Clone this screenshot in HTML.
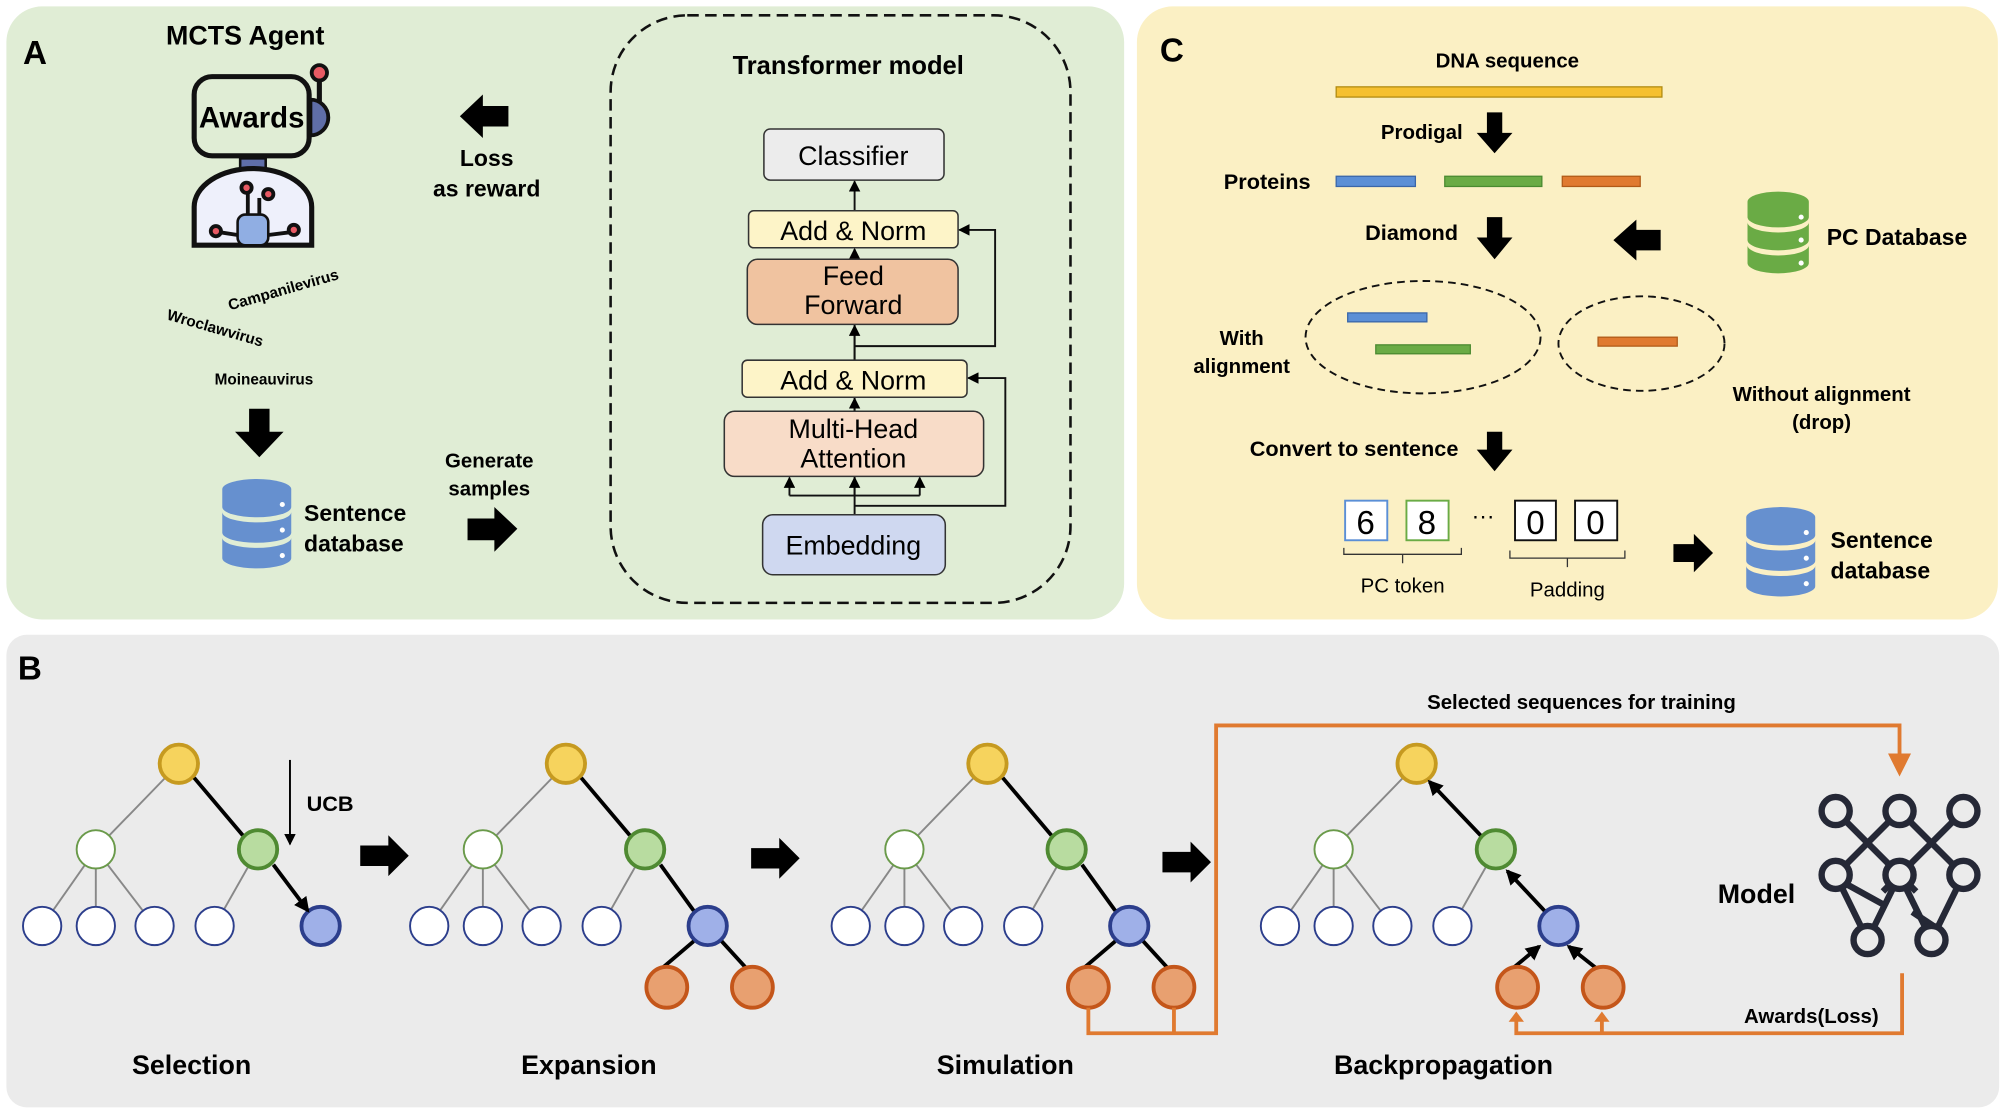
<!DOCTYPE html>
<html><head><meta charset="utf-8"><style>
html,body{margin:0;padding:0;background:#fff}
svg{display:block}
text{font-family:"Liberation Sans",Arial,sans-serif}
.b{font-weight:bold}
</style></head><body>
<svg width="2003" height="1115" viewBox="0 0 1568 873" preserveAspectRatio="none" xmlns="http://www.w3.org/2000/svg">
<defs>
 <g id="db">
  <path d="M0,8 a27,8 0 0 1 54,0 v14 a27,8 0 0 1 -54,0z" fill="#6690cf"/>
  <path d="M0,26 a27,8 0 0 0 54,0 v16 a27,8 0 0 1 -54,0z" fill="#6690cf"/>
  <path d="M0,46 a27,8 0 0 0 54,0 v16 a27,8 0 0 1 -54,0z" fill="#6690cf"/>
  <circle cx="47" cy="20" r="2" fill="#fff"/><circle cx="47" cy="40" r="2" fill="#fff"/><circle cx="47" cy="60" r="2" fill="#fff"/>
 </g>
 <g id="tree">
  <line x1="0" y1="0" x2="-65" y2="67" stroke="#888" stroke-width="1.5"/>
  <line x1="-65" y1="67" x2="-107" y2="127" stroke="#888" stroke-width="1.5"/>
  <line x1="-65" y1="67" x2="-65" y2="127" stroke="#888" stroke-width="1.5"/>
  <line x1="-65" y1="67" x2="-19" y2="127" stroke="#888" stroke-width="1.5"/>
  <line x1="62" y1="67" x2="28" y2="127" stroke="#888" stroke-width="1.5"/>
  <circle cx="0" cy="0" r="15" fill="#f6d35d" stroke="#c69a20" stroke-width="3"/>
  <circle cx="-65" cy="67" r="15" fill="#fff" stroke="#6a9a4a" stroke-width="1.5"/>
  <circle cx="62" cy="67" r="15" fill="#b8dca0" stroke="#4f8a32" stroke-width="3"/>
  <circle cx="-107" cy="127" r="15" fill="#fff" stroke="#2c3e8c" stroke-width="1.5"/>
  <circle cx="-65" cy="127" r="15" fill="#fff" stroke="#2c3e8c" stroke-width="1.5"/>
  <circle cx="-19" cy="127" r="15" fill="#fff" stroke="#2c3e8c" stroke-width="1.5"/>
  <circle cx="28" cy="127" r="15" fill="#fff" stroke="#2c3e8c" stroke-width="1.5"/>
  <circle cx="111" cy="127" r="15" fill="#9fb0e8" stroke="#2c3e8c" stroke-width="3"/>
 </g>
 <g id="kids">
  <circle cx="79" cy="175" r="16" fill="#e8a070" stroke="#c4561a" stroke-width="3"/>
  <circle cx="146" cy="175" r="16" fill="#e8a070" stroke="#c4561a" stroke-width="3"/>
 </g>
 <marker id="ah" markerUnits="userSpaceOnUse" markerWidth="9" markerHeight="9" refX="8" refY="4.5" orient="auto"><path d="M0,0 L9,4.5 L0,9z" fill="#000"/></marker>
 <marker id="ahb" markerUnits="userSpaceOnUse" markerWidth="12" markerHeight="12" refX="10" refY="6" orient="auto"><path d="M0,0 L12,6 L0,12z" fill="#000"/></marker>
</defs>

<!-- Panels -->
<rect x="5" y="5" width="875" height="480" rx="28" fill="#e0edd5"/>
<rect x="890" y="5" width="674" height="480" rx="28" fill="#fbf0c4"/>
<rect x="5" y="497" width="1560" height="370" rx="16" fill="#ebebeb"/>

<!-- Panel A -->
<text x="18" y="50" class="b" font-size="26">A</text>
<text x="192" y="35" class="b" font-size="21" text-anchor="middle">MCTS Agent</text>
<line x1="250" y1="62" x2="250" y2="90" stroke="#111" stroke-width="4"/>
<circle cx="250" cy="57" r="6" fill="#e85a64" stroke="#111" stroke-width="3"/>
<path d="M243,78 a14,14 0 0 1 0,28z" fill="#5f6ea8" stroke="#111" stroke-width="3"/>
<rect x="188" y="124" width="20" height="14" fill="#5f6ea8" stroke="#111" stroke-width="2"/>
<path d="M152,192 v-30 a46,30 0 0 1 92,0 v30z" fill="#eef0fb" stroke="#111" stroke-width="4"/>
<rect x="186" y="168" width="24" height="24" rx="6" fill="#90aee3" stroke="#111" stroke-width="2"/>
<g stroke="#111" stroke-width="3" fill="#e85a64"><line x1="194" y1="168" x2="194" y2="150"/><line x1="203" y1="168" x2="203" y2="155"/>
<circle cx="193" cy="147" r="4"/><circle cx="210" cy="152" r="4"/><circle cx="169" cy="181" r="4"/><circle cx="230" cy="180" r="4"/>
<line x1="173" y1="182" x2="186" y2="184"/><line x1="210" y1="184" x2="226" y2="182"/></g>
<rect x="152" y="60" width="90" height="62" rx="14" fill="#e0edd5" stroke="#111" stroke-width="4"/>
<text x="197" y="100" class="b" font-size="23" text-anchor="middle">Awards</text>
<text x="180" y="243" font-size="12" class="b" transform="rotate(-16 180 243)">Campanilevirus</text>
<text x="130" y="250" font-size="12" class="b" transform="rotate(16 130 250)">Wroclawvirus</text>
<text x="168" y="301" font-size="12" class="b">Moineauvirus</text>
<polygon points="195,320 211,320 211,338 222,338 203,358 184,338 195,338" fill="#000"/>
<use href="#db" x="174" y="375"/>
<text x="238" y="408" class="b" font-size="18">Sentence</text>
<text x="238" y="432" class="b" font-size="18">database</text>
<polygon points="398,83 378,83 378,74 360,91 378,108 378,99 398,99" fill="#000"/>
<text x="381" y="130" class="b" font-size="18" text-anchor="middle">Loss</text>
<text x="381" y="154" class="b" font-size="18" text-anchor="middle">as reward</text>
<text x="383" y="366" class="b" font-size="16" text-anchor="middle">Generate</text>
<text x="383" y="388" class="b" font-size="16" text-anchor="middle">samples</text>
<polygon points="366,406 387,406 387,397 405,414 387,432 387,423 366,423" fill="#000"/>

<!-- Transformer -->
<rect x="478" y="12" width="360" height="460" rx="60" fill="none" stroke="#111" stroke-width="2" stroke-dasharray="9,5"/>
<text x="664" y="58" class="b" font-size="20" text-anchor="middle">Transformer model</text>
<g stroke="#111" stroke-width="1.5" fill="none">
 <line x1="669" y1="403" x2="669" y2="311"/>
 <line x1="669" y1="282" x2="669" y2="254"/>
 <line x1="669" y1="203" x2="669" y2="195" marker-end="url(#ah)"/>
 <line x1="669" y1="165" x2="669" y2="142" marker-end="url(#ah)"/>
 <line x1="669" y1="322" x2="669" y2="312" marker-end="url(#ah)"/>
 <line x1="669" y1="282" x2="669" y2="255" marker-end="url(#ah)"/>
 <polyline points="669,396 787,396 787,296 758,296" marker-end="url(#ah)"/>
 <polyline points="669,271 779,271 779,180 751,180" marker-end="url(#ah)"/>
 <polyline points="618,388 720,388"/>
 <line x1="618" y1="388" x2="618" y2="374" marker-end="url(#ah)"/>
 <line x1="669" y1="388" x2="669" y2="374" marker-end="url(#ah)"/>
 <line x1="720" y1="388" x2="720" y2="374" marker-end="url(#ah)"/>
</g>
<rect x="598" y="101" width="141" height="40" rx="5" fill="#ececec" stroke="#333" stroke-width="1.2"/>
<text x="668" y="129" font-size="21" text-anchor="middle">Classifier</text>
<rect x="586" y="165" width="164" height="29" rx="4" fill="#fdf4c8" stroke="#333" stroke-width="1.2"/>
<text x="668" y="188" font-size="21" text-anchor="middle">Add &amp; Norm</text>
<rect x="585" y="203" width="165" height="51" rx="8" fill="#f0c3a0" stroke="#333" stroke-width="1.2"/>
<text x="668" y="223" font-size="21" text-anchor="middle">Feed</text>
<text x="668" y="246" font-size="21" text-anchor="middle">Forward</text>
<rect x="581" y="282" width="176" height="29" rx="4" fill="#fdf4c8" stroke="#333" stroke-width="1.2"/>
<text x="668" y="305" font-size="21" text-anchor="middle">Add &amp; Norm</text>
<rect x="567" y="322" width="203" height="51" rx="8" fill="#f8dcc8" stroke="#333" stroke-width="1.2"/>
<text x="668" y="343" font-size="21" text-anchor="middle">Multi-Head</text>
<text x="668" y="366" font-size="21" text-anchor="middle">Attention</text>
<rect x="597" y="403" width="143" height="47" rx="8" fill="#cfd8f0" stroke="#333" stroke-width="1.2"/>
<text x="668" y="434" font-size="21" text-anchor="middle">Embedding</text>

<!-- Panel C -->
<text x="908" y="48" class="b" font-size="26">C</text>
<text x="1180" y="53" class="b" font-size="16" text-anchor="middle">DNA sequence</text>
<rect x="1046" y="68" width="255" height="8" fill="#f5c030" stroke="#b08a10" stroke-width="1"/>
<text x="1113" y="109" class="b" font-size="16" text-anchor="middle">Prodigal</text>
<polygon points="1164,88 1176,88 1176,104 1184,104 1170,120 1156,104 1164,104" fill="#000"/>
<text x="992" y="148" class="b" font-size="17" text-anchor="middle">Proteins</text>
<rect x="1046" y="138" width="62" height="8" fill="#5b8fd6" stroke="#3a66a8"/>
<rect x="1131" y="138" width="76" height="8" fill="#6aab45" stroke="#4a8a30"/>
<rect x="1223" y="138" width="61" height="8" fill="#e07a30" stroke="#b05a18"/>
<text x="1105" y="188" class="b" font-size="17" text-anchor="middle">Diamond</text>
<polygon points="1164,170 1176,170 1176,186 1184,186 1170,203 1156,186 1164,186" fill="#000"/>
<polygon points="1300,180 1281,180 1281,172 1263,188 1281,204 1281,196 1300,196" fill="#000"/>
<g>
 <path d="M1368,158 a24,8 0 0 1 48,0 v12 a24,8 0 0 1 -48,0z" fill="#6aab45"/>
 <path d="M1368,174 a24,8 0 0 0 48,0 v14 a24,8 0 0 1 -48,0z" fill="#6aab45"/>
 <path d="M1368,192 a24,8 0 0 0 48,0 v14 a24,8 0 0 1 -48,0z" fill="#6aab45"/>
 <circle cx="1410" cy="170" r="2" fill="#fff"/><circle cx="1410" cy="188" r="2" fill="#fff"/><circle cx="1410" cy="206" r="2" fill="#fff"/>
</g>
<text x="1430" y="192" class="b" font-size="18">PC Database</text>
<ellipse cx="1114" cy="264" rx="92" ry="44" fill="none" stroke="#111" stroke-width="1.5" stroke-dasharray="6,4"/>
<ellipse cx="1285" cy="269" rx="65" ry="37" fill="none" stroke="#111" stroke-width="1.5" stroke-dasharray="6,4"/>
<rect x="1055" y="245" width="62" height="7" fill="#5b8fd6" stroke="#3a66a8"/>
<rect x="1077" y="270" width="74" height="7" fill="#6aab45" stroke="#4a8a30"/>
<rect x="1251" y="264" width="62" height="7" fill="#e07a30" stroke="#b05a18"/>
<text x="972" y="270" class="b" font-size="16" text-anchor="middle">With</text>
<text x="972" y="292" class="b" font-size="16" text-anchor="middle">alignment</text>
<text x="1426" y="314" class="b" font-size="16" text-anchor="middle">Without alignment</text>
<text x="1426" y="336" class="b" font-size="16" text-anchor="middle">(drop)</text>
<text x="1060" y="357" class="b" font-size="17" text-anchor="middle">Convert to sentence</text>
<polygon points="1164,338 1176,338 1176,352 1184,352 1170,369 1156,352 1164,352" fill="#000"/>
<rect x="1053" y="392" width="33" height="31" fill="#fff" stroke="#5b8fd6" stroke-width="1.5"/>
<text x="1069" y="418" font-size="26" text-anchor="middle">6</text>
<rect x="1101" y="392" width="33" height="31" fill="#fff" stroke="#6aab45" stroke-width="1.5"/>
<text x="1117" y="418" font-size="26" text-anchor="middle">8</text>
<text x="1161" y="410" font-size="18" text-anchor="middle">···</text>
<rect x="1186" y="392" width="32" height="31" fill="#fff" stroke="#111" stroke-width="1.5"/>
<text x="1202" y="418" font-size="26" text-anchor="middle">0</text>
<rect x="1233" y="392" width="33" height="31" fill="#fff" stroke="#111" stroke-width="1.5"/>
<text x="1249" y="418" font-size="26" text-anchor="middle">0</text>
<path d="M1052,429 v5 h46 v7 M1098,434 h46 v-5" fill="none" stroke="#333" stroke-width="1"/>
<path d="M1182,431 v6 h45 v7 M1227,437 h45 v-6" fill="none" stroke="#333" stroke-width="1"/>
<text x="1098" y="464" font-size="16" text-anchor="middle">PC token</text>
<text x="1227" y="467" font-size="16" text-anchor="middle">Padding</text>
<polygon points="1310,426 1326,426 1326,418 1341,433 1326,448 1326,440 1310,440" fill="#000"/>
<use href="#db" x="1367" y="397"/>
<text x="1433" y="429" class="b" font-size="18">Sentence</text>
<text x="1433" y="453" class="b" font-size="18">database</text>

<!-- Panel B -->
<text x="14" y="532" class="b" font-size="26">B</text>
<!-- Selection -->
<use href="#tree" x="140" y="598"/>
<g stroke="#000" stroke-width="3"><line x1="152" y1="609" x2="190" y2="654"/><line x1="214" y1="677" x2="241" y2="713" marker-end="url(#ahb)"/></g>
<line x1="227" y1="595" x2="227" y2="661" stroke="#000" stroke-width="1.5" marker-end="url(#ah)"/>
<text x="240" y="635" class="b" font-size="17">UCB</text>
<text x="150" y="841" class="b" font-size="21" text-anchor="middle">Selection</text>
<polygon points="282,662 304,662 304,654 320,670 304,686 304,678 282,678" fill="#000"/>
<!-- Expansion -->
<use href="#tree" x="443" y="598"/>
<g stroke="#000" stroke-width="3"><line x1="455" y1="609" x2="493" y2="654"/><line x1="517" y1="677" x2="543" y2="713"/>
<line x1="543" y1="737" x2="516" y2="760"/><line x1="565" y1="737" x2="586" y2="760"/></g>
<use href="#kids" x="443" y="598"/>
<text x="461" y="841" class="b" font-size="21" text-anchor="middle">Expansion</text>
<polygon points="588,664 610,664 610,656 626,672 610,688 610,680 588,680" fill="#000"/>
<!-- Simulation -->
<use href="#tree" x="773" y="598"/>
<g stroke="#000" stroke-width="3"><line x1="785" y1="609" x2="823" y2="654"/><line x1="847" y1="677" x2="873" y2="713"/>
<line x1="873" y1="737" x2="846" y2="760"/><line x1="895" y1="737" x2="916" y2="760"/></g>
<use href="#kids" x="773" y="598"/>
<text x="787" y="841" class="b" font-size="21" text-anchor="middle">Simulation</text>
<polygon points="910,667 932,667 932,659 948,675 932,691 932,683 910,683" fill="#000"/>
<!-- orange connector -->
<g fill="none" stroke="#e07a30" stroke-width="3">
 <polyline points="852,789 852,809 952,809 952,568 1487,568 1487,598"/>
 <line x1="919" y1="789" x2="919" y2="809"/>
 <polyline points="1489,762 1489,809 1187,809 1187,797"/>
 <line x1="1254" y1="809" x2="1254" y2="797"/>
</g>
<polygon points="1478,590 1496,590 1487,608" fill="#e07a30"/>
<polygon points="1181,800 1193,800 1187,792" fill="#e07a30"/>
<polygon points="1248,800 1260,800 1254,792" fill="#e07a30"/>
<text x="1238" y="555" class="b" font-size="16" text-anchor="middle">Selected sequences for training</text>
<text x="1418" y="801" class="b" font-size="16" text-anchor="middle">Awards(Loss)</text>
<!-- Backprop -->
<use href="#tree" x="1109" y="598"/>
<g stroke="#000" stroke-width="3"><line x1="1159" y1="654" x2="1119" y2="612" marker-end="url(#ahb)"/><line x1="1209" y1="713" x2="1180" y2="682" marker-end="url(#ahb)"/>
<line x1="1182" y1="760" x2="1205" y2="741" marker-end="url(#ahb)"/><line x1="1252" y1="760" x2="1228" y2="741" marker-end="url(#ahb)"/></g>
<use href="#kids" x="1109" y="598"/>
<text x="1130" y="841" class="b" font-size="21" text-anchor="middle">Backpropagation</text>
<!-- Model icon -->
<g stroke="#252836" stroke-width="5" fill="none" stroke-linecap="butt">
 <line x1="1437" y1="635" x2="1500" y2="698"/><line x1="1487" y1="635" x2="1437" y2="685"/>
 <line x1="1487" y1="635" x2="1537" y2="685"/><line x1="1537" y1="635" x2="1474" y2="698"/>
 <line x1="1437" y1="685" x2="1462" y2="736"/><line x1="1487" y1="685" x2="1462" y2="736"/>
 <line x1="1487" y1="685" x2="1512" y2="736"/><line x1="1537" y1="685" x2="1512" y2="736"/>
 <line x1="1445" y1="692" x2="1474" y2="708"/>
 <line x1="1497" y1="714" x2="1518" y2="728"/>
 <g fill="#ebebeb">
 <circle cx="1437" cy="635" r="11"/><circle cx="1487" cy="635" r="11"/><circle cx="1537" cy="635" r="11"/>
 <circle cx="1437" cy="685" r="11"/><circle cx="1487" cy="685" r="11"/><circle cx="1537" cy="685" r="11"/>
 <circle cx="1462" cy="736" r="11"/><circle cx="1512" cy="736" r="11"/></g>
</g>
<text x="1375" y="707" class="b" font-size="21" text-anchor="middle">Model</text>
</svg>
</body></html>
